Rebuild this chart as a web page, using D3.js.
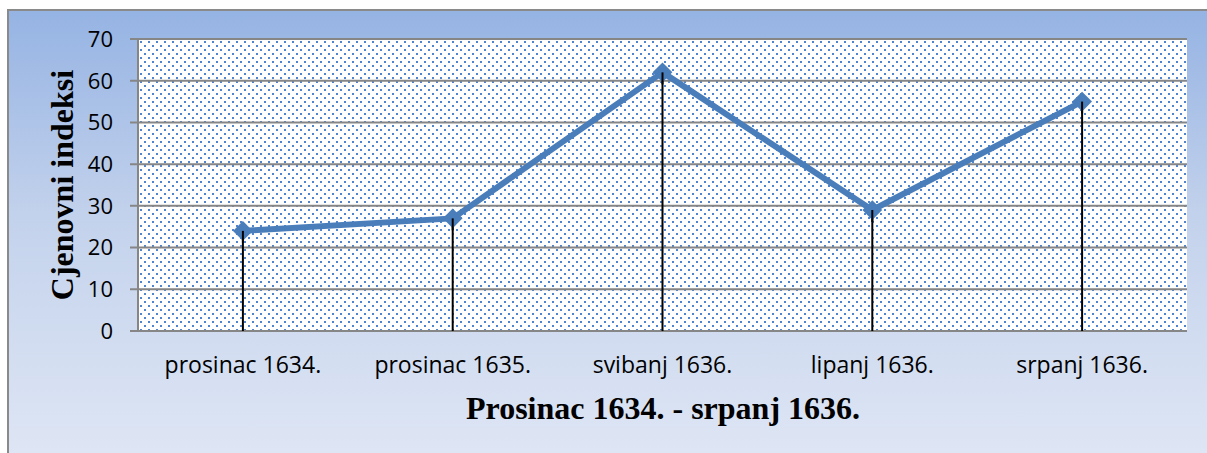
<!DOCTYPE html>
<html>
<head>
<meta charset="utf-8">
<script src="https://cdn.jsdelivr.net/npm/d3@7"></script>
<style>
  body { margin: 0; background: #fff; }
  svg { display: block; }
</style>
</head>
<body>
<svg id="chart" width="1207" height="453"></svg>
<script>
// chart data
const months = ["prosinac 1634.", "prosinac 1635.", "svibanj 1636.", "lipanj 1636.", "srpanj 1636."];
const indices = [24, 27, 62, 29, 55];
const yTicks = [0, 10, 20, 30, 40, 50, 60, 70];

const svg = d3.select("#chart");
const defs = svg.append("defs");

// background gradient of the chart area
let grad = defs.append("linearGradient")
    .attr("id", "bg").attr("x1", 0).attr("y1", 0).attr("x2", 0).attr("y2", 1);
grad.append("stop").attr("offset", "0%").attr("stop-color", "#95b3e3");
grad.append("stop").attr("offset", "45%").attr("stop-color", "#c3d2ec");
grad.append("stop").attr("offset", "100%").attr("stop-color", "#e0e7f5");

// dotted fill of the plot area
let pat = defs.append("pattern")
    .attr("id", "dots").attr("patternUnits", "userSpaceOnUse")
    .attr("width", 8).attr("height", 8).attr("x", 139).attr("y", 40);
pat.append("rect").attr("width", 8).attr("height", 8).attr("fill", "#fff");
pat.append("rect").attr("x", 1).attr("y", 1).attr("width", 2).attr("height", 2).attr("fill", "#4f85cf");
pat.append("rect").attr("x", 5).attr("y", 5).attr("width", 2).attr("height", 2).attr("fill", "#4f85cf");

svg.append("rect")
    .attr("x", 8).attr("y", 10).attr("width", 1215).attr("height", 460)
    .attr("fill", "url(#bg)").attr("stroke", "#8a8a8a").attr("stroke-width", 2);

const margin = {left: 138, right: 1187, top: 39, bottom: 331};

const x = d3.scaleBand().domain(months).range([margin.left, margin.right]);
const y = d3.scaleLinear().domain([0, 70]).range([margin.bottom, margin.top]);

svg.append("rect")
    .attr("x", margin.left).attr("y", margin.top)
    .attr("width", margin.right - margin.left).attr("height", margin.bottom - margin.top)
    .attr("fill", "url(#dots)");

// gridlines
svg.append("g").selectAll("line")
    .data(yTicks)
    .join("line")
    .attr("x1", margin.left - 8).attr("x2", margin.right)
    .attr("y1", d => y(d)).attr("y2", d => y(d))
    .attr("stroke", "#868686").attr("stroke-width", 2);

// y axis line
svg.append("line")
    .attr("x1", margin.left).attr("x2", margin.left)
    .attr("y1", margin.top).attr("y2", margin.bottom)
    .attr("stroke", "#868686").attr("stroke-width", 2);

// y tick labels
svg.append("g").selectAll("text")
    .data(yTicks)
    .join("text")
    .attr("x", 113).attr("y", d => y(d))
    .attr("dy", "0.36em").attr("text-anchor", "end")
    .attr("font-family", "'Open Sans', sans-serif").attr("font-size", 22)
    .attr("fill", "#000")
    .text(d => d);

// x tick labels
svg.append("g").selectAll("text")
    .data(months)
    .join("text")
    .attr("x", d => x(d) + x.bandwidth() / 2).attr("y", 373)
    .attr("text-anchor", "middle")
    .attr("font-family", "'Open Sans', sans-serif").attr("font-size", 23)
    .attr("fill", "#000")
    .text(d => d);

// drop lines
svg.append("g").selectAll("line")
    .data(indices)
    .join("line")
    .attr("x1", (d, i) => x(months[i]) + x.bandwidth() / 2)
    .attr("x2", (d, i) => x(months[i]) + x.bandwidth() / 2)
    .attr("y1", d => y(d)).attr("y2", margin.bottom)
    .attr("stroke", "#000").attr("stroke-width", 2);

const line = d3.line()
    .x((d, i) => x(months[i]) + x.bandwidth() / 2)
    .y(d => y(d));

svg.append("path")
    .datum(indices)
    .attr("d", line)
    .attr("fill", "none").attr("stroke", "#4a7ebb")
    .attr("stroke-width", 6).attr("stroke-linejoin", "round");

svg.append("g").selectAll("path")
    .data(indices)
    .join("path")
    .attr("transform", (d, i) => `translate(${x(months[i]) + x.bandwidth() / 2},${y(d)})`)
    .attr("d", d3.symbol(d3.symbolDiamond2, 250))
    .attr("fill", "#4a7ebb");

// drop-line tops show over the markers, as in the reference
svg.append("g").selectAll("line")
    .data(indices)
    .join("line")
    .attr("x1", (d, i) => x(months[i]) + x.bandwidth() / 2)
    .attr("x2", (d, i) => x(months[i]) + x.bandwidth() / 2)
    .attr("y1", d => y(d)).attr("y2", d => y(d) + 12)
    .attr("stroke", "#000").attr("stroke-width", 2);

// axis titles
svg.append("text")
    .attr("transform", "translate(73,185) rotate(-90)")
    .attr("text-anchor", "middle")
    .attr("font-family", "'Liberation Serif', 'Times New Roman', serif")
    .attr("font-weight", "bold").attr("font-size", 32)
    .text("Cjenovni indeksi");

svg.append("text")
    .attr("x", 663).attr("y", 419)
    .attr("text-anchor", "middle")
    .attr("font-family", "'Liberation Serif', 'Times New Roman', serif")
    .attr("font-weight", "bold").attr("font-size", 32)
    .text("Prosinac 1634. - srpanj 1636.");
</script>
</body>
</html>
